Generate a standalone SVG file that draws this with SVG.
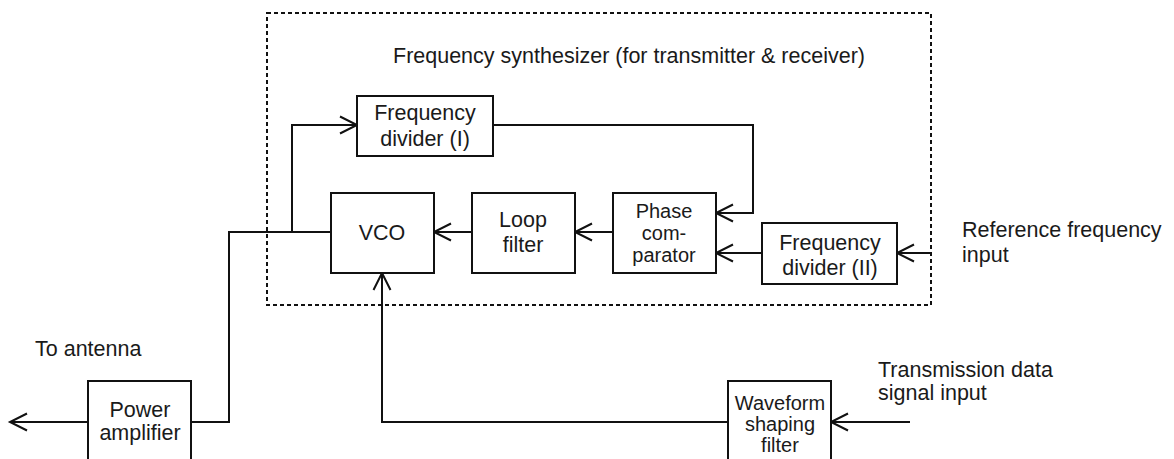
<svg xmlns="http://www.w3.org/2000/svg" width="1174" height="459" viewBox="0 0 1174 459">
<defs>
<style>
.box{fill:#fff;stroke:#111;stroke-width:2}
.ln{fill:none;stroke:#111;stroke-width:2}
.ar{marker-end:url(#arr)}
text{font-family:"Liberation Sans",Arial,sans-serif;font-size:21.5px;fill:#1a1a1a}
.c{text-anchor:middle}
.t{font-size:20px}
</style>
<marker id="arr" markerUnits="userSpaceOnUse" markerWidth="22" markerHeight="22" refX="18" refY="10" orient="auto" viewBox="0 0 22 22">
<path d="M1,1.5 L18,10 L1,18.5" fill="none" stroke="#111" stroke-width="2"/>
</marker>
</defs>
<rect id="synth-boundary" x="267" y="13" width="664" height="292" fill="none" stroke="#111" stroke-width="2" stroke-dasharray="4 3"/>
<text x="393" y="63">Frequency synthesizer (for transmitter &amp; receiver)</text>
<g id="connectors">
<path class="ln" d="M331,232 H229 V422 H191"/>
<path class="ln ar" d="M292,232 V125 H357"/>
<path class="ln ar" d="M493,125 H753 V213 H716"/>
<path class="ln ar" d="M613,232 H575"/>
<path class="ln ar" d="M472,232 H434"/>
<path class="ln ar" d="M762,253 H716"/>
<path class="ln ar" d="M931,253 H897"/>
<path class="ln ar" d="M88,422 H10"/>
<path class="ln ar" d="M910,422 H831"/>
<path class="ln ar" d="M728,422 H382 V273"/>
</g>
<g id="freq-divider-1">
<rect class="box" x="357" y="96" width="136" height="60"/>
<text class="c" x="425" y="120">Frequency</text>
<text class="c" x="425" y="146">divider (I)</text>
</g>
<g id="vco">
<rect class="box" x="331" y="193" width="103" height="80"/>
<text class="c" x="382" y="240">VCO</text>
</g>
<g id="loop-filter">
<rect class="box" x="472" y="193" width="103" height="80"/>
<text class="c" x="523" y="227">Loop</text>
<text class="c" x="523" y="252">filter</text>
</g>
<g id="phase-comparator">
<rect class="box" x="613" y="193" width="103" height="80"/>
<text class="c t" x="664" y="218">Phase</text>
<text class="c t" x="664" y="240">com-</text>
<text class="c t" x="664" y="262">parator</text>
</g>
<g id="freq-divider-2">
<rect class="box" x="762" y="223" width="135" height="61"/>
<text class="c" x="830" y="250">Frequency</text>
<text class="c" x="830" y="275">divider (II)</text>
</g>
<g id="power-amplifier">
<rect class="box" x="88" y="381" width="103" height="90"/>
<text class="c" x="140" y="417">Power</text>
<text class="c" x="140" y="440">amplifier</text>
</g>
<g id="waveform-filter">
<rect class="box" x="728" y="381" width="103" height="90"/>
<text class="c t" x="780" y="410">Waveform</text>
<text class="c t" x="780" y="431">shaping</text>
<text class="c t" x="780" y="452">filter</text>
</g>
<g id="labels">
<text x="962" y="237">Reference frequency</text>
<text x="962" y="262">input</text>
<text x="878" y="377">Transmission data</text>
<text x="878" y="400">signal input</text>
<text x="35" y="356">To antenna</text>
</g>
</svg>
